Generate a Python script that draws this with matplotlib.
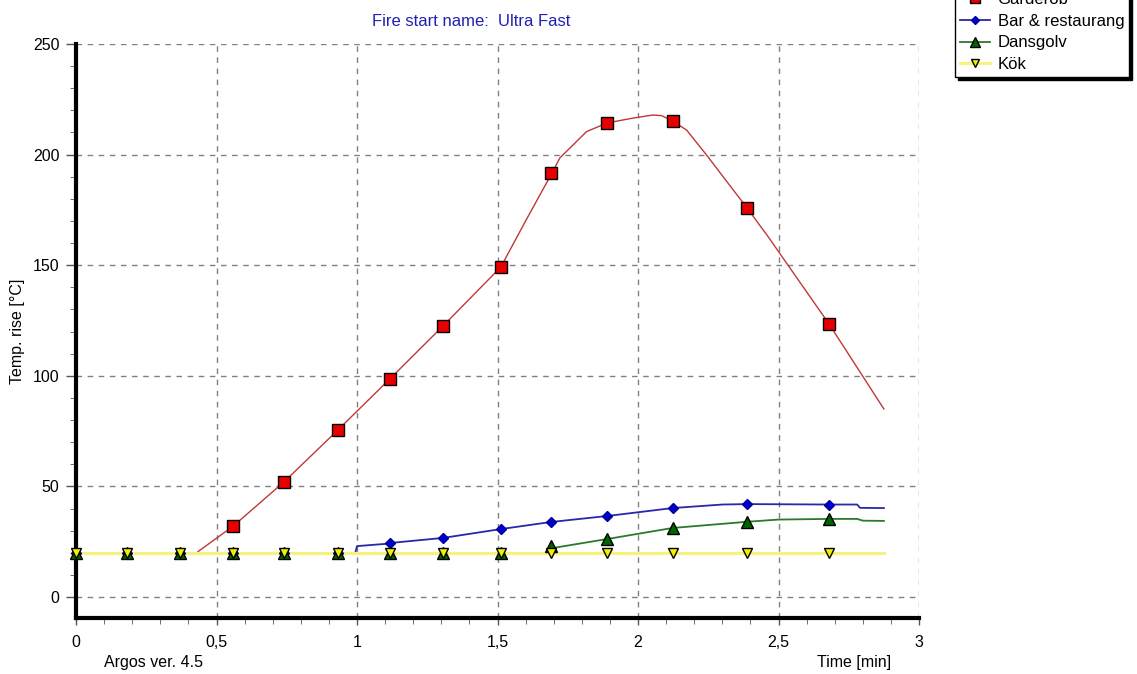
import numpy as np
import matplotlib
matplotlib.use("Agg")
import matplotlib.pyplot as plt
from matplotlib.lines import Line2D
from matplotlib.ticker import MultipleLocator, FixedLocator

plt.rcParams['font.family'] = ['Liberation Sans', 'DejaVu Sans']

# marker times (min), shared by all series
marker_t = [0, 0.181, 0.370, 0.559, 0.740, 0.932, 1.117, 1.306, 1.512,
            1.690, 1.890, 2.123, 2.388, 2.680]
nan = np.nan
garderob_mk = [nan, nan, nan, 32, 52, 75.5, 98.6, 122.5, 149.2,
               191.7, 214.3, 215.2, 175.9, 123.4]
bar_mk = [20, 20, 20, 20, 20, 20, 24.4, 26.7, 30.7, 33.9, 36.6, 40.2, 42.0, 41.6]
dans_mk = [20, 20, 20, 20, 20, 20, 20, 20, 20, 23.0, 26.2, 31.2, 34.0, 35.3]
kok_mk = [20] * 14

# curves
garderob_t = [0.434, 0.559, 0.740, 0.932, 1.117, 1.306, 1.512, 1.600, 1.694,
              1.722, 1.817, 1.890, 1.982, 2.053, 2.084, 2.123, 2.173, 2.244,
              2.339, 2.388, 2.463, 2.680, 2.875]
garderob_v = [20.5, 32, 52, 75.5, 98.6, 122.5, 149.2, 170, 191.7,
              198.5, 210.4, 214.3, 216.5, 217.9, 217.6, 215.2, 211.1, 199.8,
              184, 175.9, 162.9, 123.4, 85]
bar_t = [0.995, 1.0, 1.10, 1.117, 1.306, 1.512, 1.690, 1.890, 2.123, 2.30,
         2.388, 2.680, 2.780, 2.790, 2.875]
bar_v = [20.5, 23.0, 24.0, 24.4, 26.7, 30.7, 33.9, 36.6, 40.2, 41.8,
         42.0, 41.8, 41.8, 40.3, 40.2]
dans_t = [1.690, 1.890, 2.123, 2.388, 2.50, 2.680, 2.780, 2.800, 2.875]
dans_v = [22.0, 26.2, 31.2, 34.0, 35.0, 35.3, 35.3, 34.5, 34.4]
kok_t = [0, 2.875]
kok_v = [20, 20]

names = ['Garderob', 'Bar & restaurang', 'Dansgolv', 'Kök']
x_ticks = [0, 0.5, 1, 1.5, 2, 2.5, 3]
x_labels = ['0', '0,5', '1', '1,5', '2', '2,5', '3']

fig = plt.figure(figsize=(11.37, 6.74), dpi=100)
ax = fig.add_axes([76 / 1137, 56 / 674, 843 / 1137, 574 / 674])

styles = [
    dict(color='#c03838', lw=1.0, marker='s', mfc='#e80000', mec='black', ms=8),
    dict(color='#2828a8', lw=1.3, marker='D', mfc='#0000c8', mec='#0000a0', ms=5.5),
    dict(color='#2a7a2a', lw=1.3, marker='^', mfc='#006400', mec='black', ms=8),
    dict(color='#f6f27a', lw=2.2, marker='v', mfc='#f0f000', mec='black', ms=7),
]
curves = [(garderob_t, garderob_v), (bar_t, bar_v), (dans_t, dans_v), (kok_t, kok_v)]
marks = [garderob_mk, bar_mk, dans_mk, kok_mk]

for i, ((t, v), st) in enumerate(zip(curves, styles)):
    ax.plot(t, v, color=st['color'], lw=st['lw'], zorder=3 + i)
for i, (mk, st) in enumerate(zip(marks, styles)):
    ax.plot(marker_t, mk, ls='none', marker=st['marker'], mfc=st['mfc'],
            mec=st['mec'], ms=st['ms'], mew=1.0, zorder=10 + i, clip_on=False)

ax.set_xlim(0, 3)
ax.set_ylim(-9.5, 250)
ax.xaxis.set_major_locator(FixedLocator(x_ticks))
ax.set_xticklabels(x_labels)
ax.xaxis.set_minor_locator(MultipleLocator(0.1))
ax.yaxis.set_major_locator(MultipleLocator(50))
ax.yaxis.set_minor_locator(MultipleLocator(10))
ax.grid(True, which='major', color='#808080', ls=(0, (4, 4)), lw=1)
ax.set_axisbelow(True)

for s in ['top', 'right']:
    ax.spines[s].set_visible(False)
for s in ['left', 'bottom']:
    ax.spines[s].set_linewidth(3)
    ax.spines[s].set_color('black')

ax.tick_params(axis='both', which='major', labelsize=11.5, color='#555555',
               direction='out', width=1)
ax.tick_params(axis='y', which='major', length=7, pad=5)
ax.tick_params(axis='y', which='minor', length=4, color='#555555')
ax.tick_params(axis='x', which='major', length=5, pad=7)
ax.tick_params(axis='x', which='minor', length=4, color='#555555')

fig.text(18 / 1137, 0.509, 'Temp. rise [°C]', rotation=90, ha='center',
         va='center', fontsize=11.5)
fig.text(471 / 1137, 1 - 21 / 674, 'Fire start name:  Ultra Fast', ha='center',
         va='center', fontsize=12, color='#2020b0')
fig.text(104 / 1137, 1 - 662 / 674, 'Argos ver. 4.5', ha='left', va='center',
         fontsize=11.5)
fig.text(854 / 1137, 1 - 662 / 674, 'Time [min]', ha='center', va='center',
         fontsize=11.5)

handles = [Line2D([], [], color=st['color'], lw=st['lw'], marker=st['marker'],
                  mfc=st['mfc'], mec=st['mec'], ms=st['ms'] - 1)
           for st in styles]
leg = fig.legend(handles, names, loc='lower left',
                 bbox_to_anchor=(955 / 1137, 1 - 77 / 674),
                 borderaxespad=0, fontsize=12, frameon=True, fancybox=False,
                 shadow={'color': 'black', 'alpha': 1}, edgecolor='black',
                 framealpha=1, handlelength=1.8, handletextpad=0.45,
                 labelspacing=0.4, borderpad=0.3)
leg.get_frame().set_linewidth(1)

fig.savefig('out.png', dpi=100)
